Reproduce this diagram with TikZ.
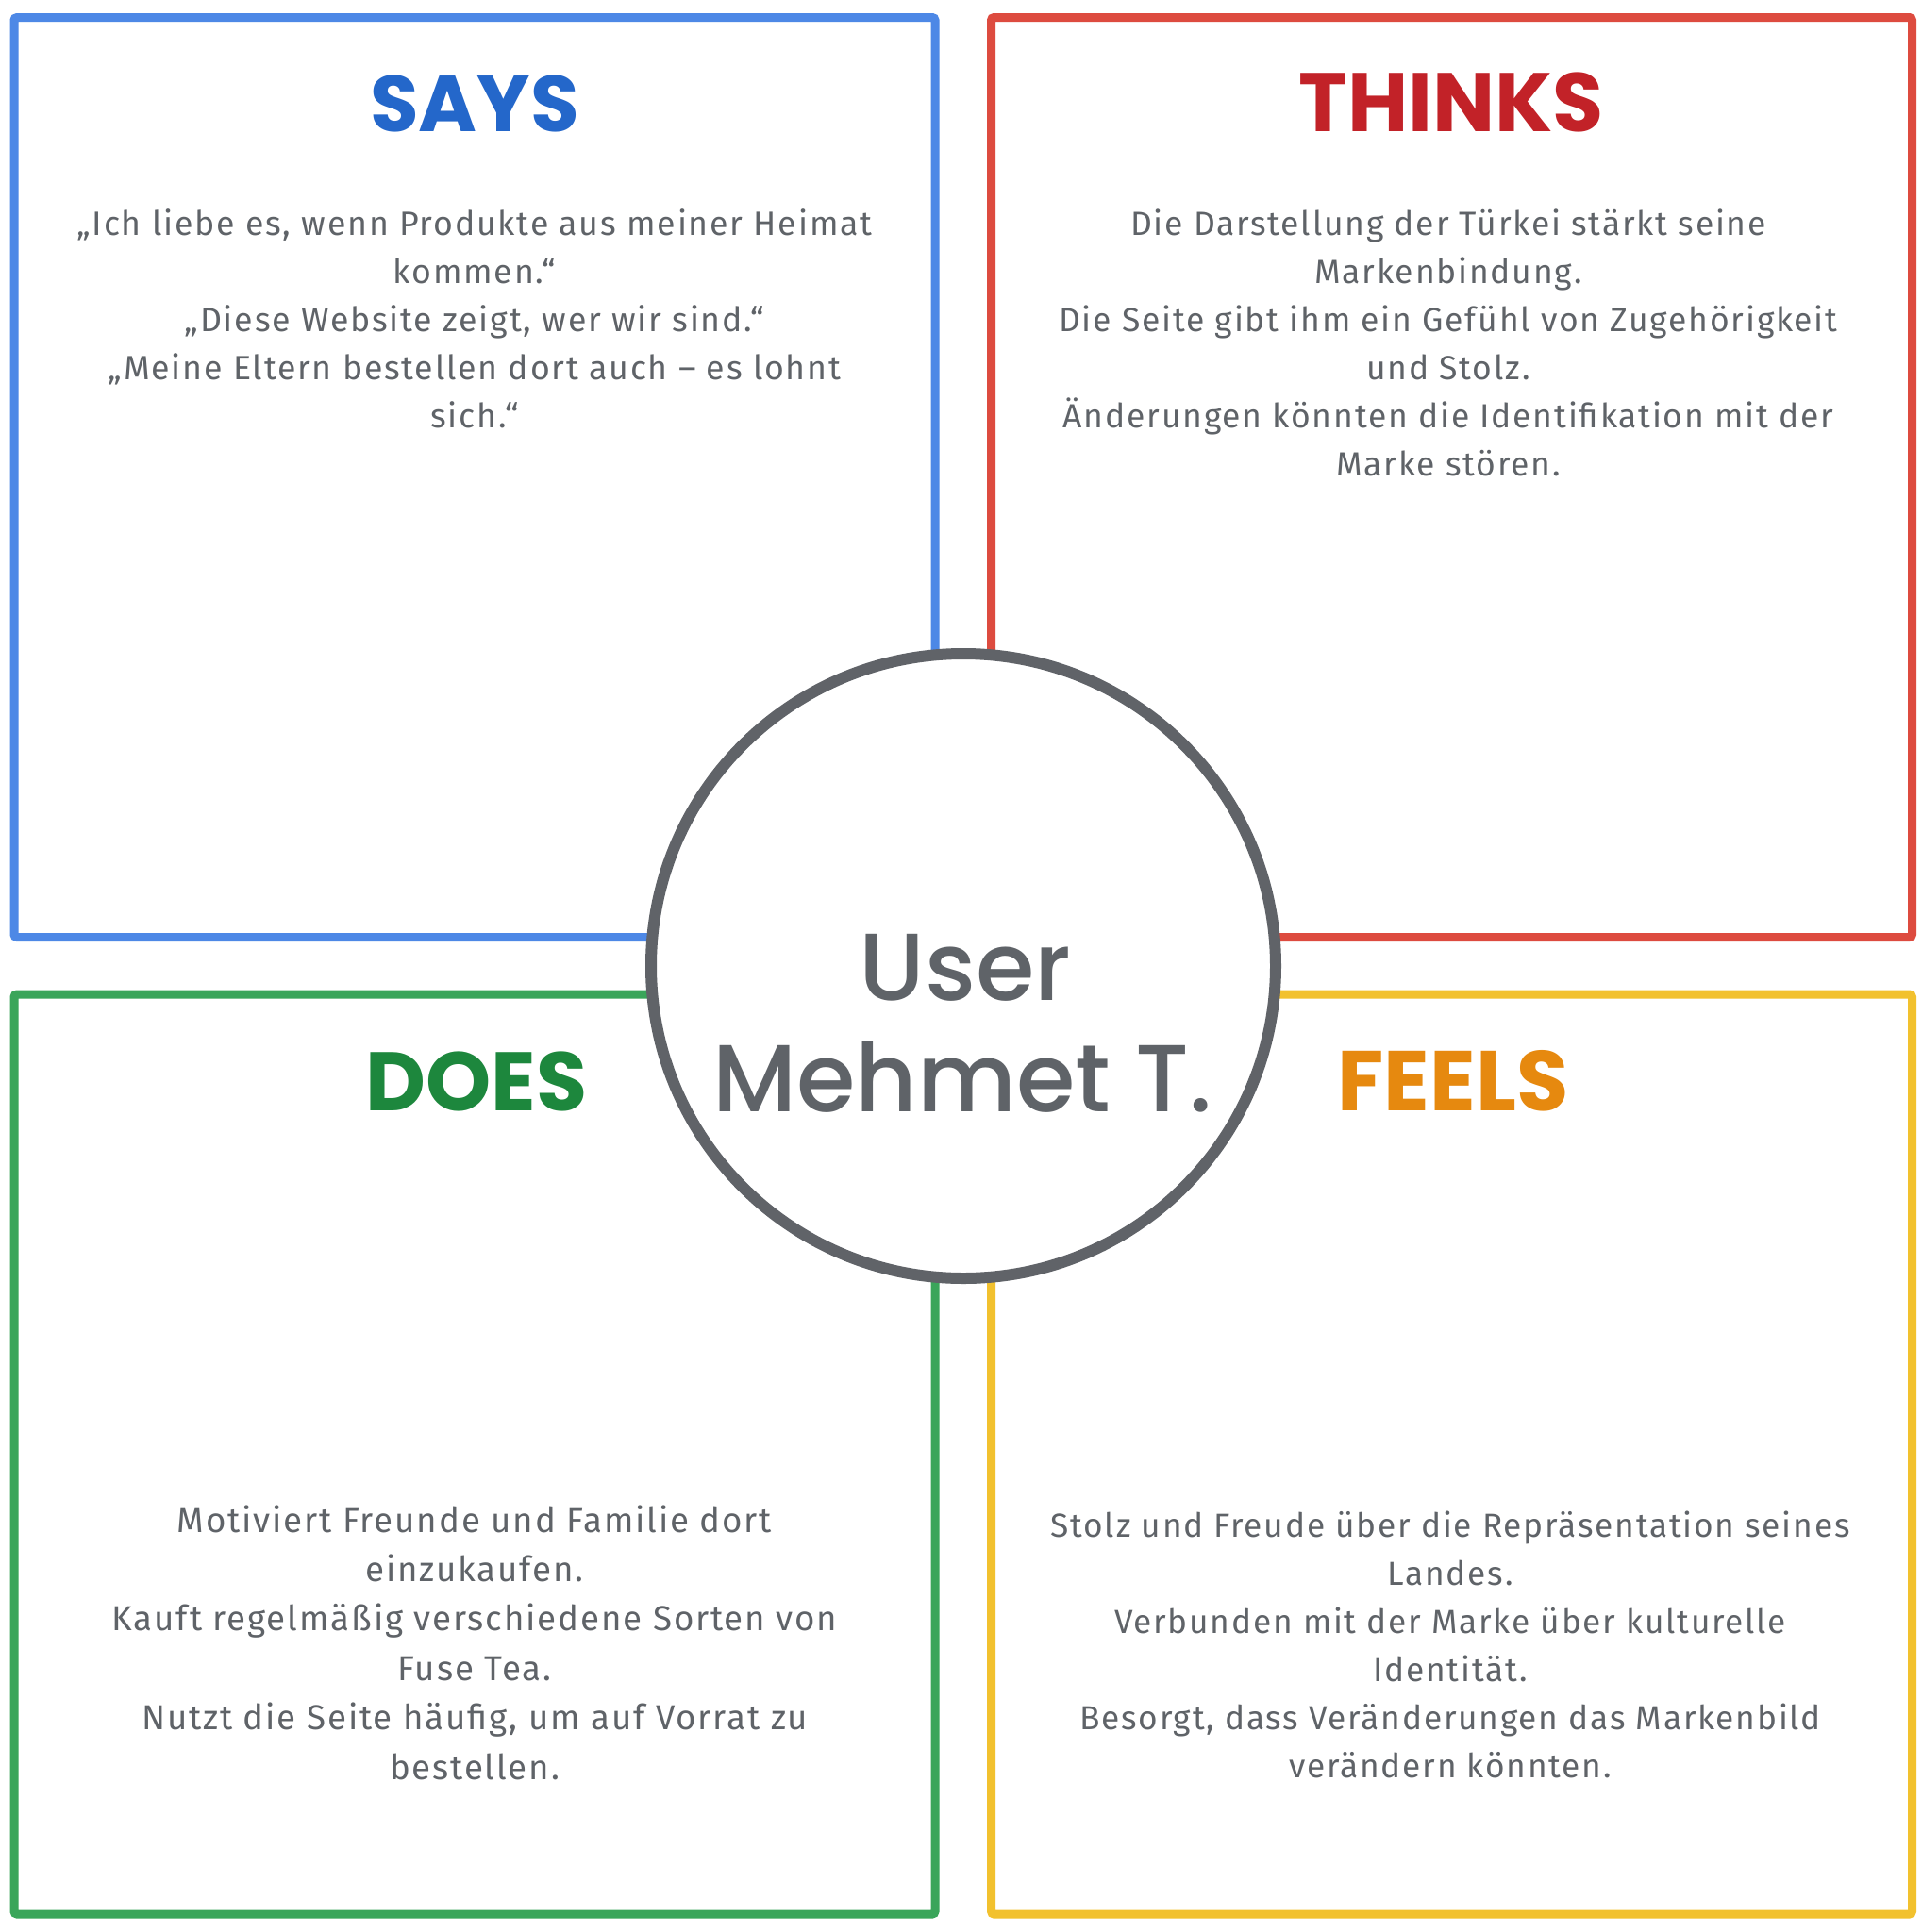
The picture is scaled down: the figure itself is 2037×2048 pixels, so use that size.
\documentclass[tikz,border=0pt]{standalone}
\usepackage{fontspec}
\newfontfamily\bodyfont{Fira Sans}[LetterSpace=5]
\newfontfamily\headfont{Poppins}
\newfontfamily\userfont{Poppins Medium}

\definecolor{saysline}{HTML}{4D88E6}
\definecolor{saystext}{HTML}{2467CA}
\definecolor{thinksline}{HTML}{DD4B3F}
\definecolor{thinkstext}{HTML}{C22228}
\definecolor{doesline}{HTML}{3AA55A}
\definecolor{doestext}{HTML}{1D873D}
\definecolor{feelsline}{HTML}{F2C12E}
\definecolor{feelstext}{HTML}{E6890F}
\definecolor{inkgray}{HTML}{5F6368}
\definecolor{ringgray}{HTML}{606368}

\tikzset{
  quad/.style={draw=#1, line width=9pt, rounded corners=3pt, inner sep=0pt,
    minimum width=976pt, minimum height=975pt},
  heading/.style={anchor=base, inner sep=0pt, text=#1,
    font=\headfont\bfseries\fontsize{88}{88}\selectfont},
  bodytext/.style={anchor=base, inner sep=0pt, text=inkgray},
  ring/.style={circle, draw=ringgray, line width=12pt, fill=white,
    minimum size=662pt, inner sep=0pt}
}

\newcommand{\blocktext}[2]{\parbox[t]{980pt}{\centering\bodyfont\fontsize{#1}{#1}\selectfont #2}}

\begin{document}
\begin{tikzpicture}[x=1pt, y=-1pt]
  \useasboundingbox (0,0) rectangle (2037,2048);
  \fill[white] (0,0) rectangle (2037,2048);

  % four quadrants
  \node[quad=saysline]   (says)   at (503,506)     {};
  \node[quad=thinksline] (thinks) at (1538.5,506)  {};
  \node[quad=doesline]   (does)   at (503,1541.5)  {};
  \node[quad=feelsline]  (feels)  at (1538.5,1541.5) {};

  % headings
  \node[heading=saystext, font=\headfont\bfseries\fontsize{84}{84}\selectfont]
    (saysh) at (503,139) {SAYS};
  \node[heading=thinkstext] (thinksh) at (1538,139)   {THINKS};
  \node[heading=doestext]   (doesh)   at (505,1177)   {DOES};
  \node[heading=feelstext, font=\headfont\bfseries\fontsize{90}{90}\selectfont]
    (feelsh) at (1540,1177) {FEELS};

  % quadrant contents
  \node[bodytext] (sayst) at (503,249) {\blocktext{35.7}{%
    \baselineskip=51pt
    „Ich liebe es, wenn Produkte aus meiner Heimat\\
    kommen.“\\
    „Diese Website zeigt, wer wir sind.“\\
    „Meine Eltern bestellen dort auch – es lohnt\\
    sich.“}};
  \node[bodytext] (thinkst) at (1535,249) {\blocktext{35.5}{%
    \baselineskip=51pt
    Die Darstellung der Türkei stärkt seine\\
    Markenbindung.\\
    Die Seite gibt ihm ein Gefühl von Zugehörigkeit\\
    und Stolz.\\
    Änderungen könnten die Identifikation mit der\\
    Marke stören.}};
  \node[bodytext] (doest) at (503,1624) {\blocktext{36.7}{%
    \baselineskip=52.4pt
    Motiviert Freunde und Familie dort\\
    einzukaufen.\\
    Kauft regelmäßig verschiedene Sorten von\\
    Fuse Tea.\\
    Nutzt die Seite häufig, um auf Vorrat zu\\
    bestellen.}};
  \node[bodytext] (feelst) at (1537,1629) {\blocktext{35.3}{%
    \baselineskip=51pt
    Stolz und Freude über die Repräsentation seines\\
    Landes.\\
    Verbunden mit der Marke über kulturelle\\
    Identität.\\
    Besorgt, dass Veränderungen das Markenbild\\
    verändern könnten.}};

  % central persona
  \node[ring] (user) at (1021,1024) {};
  \node[anchor=base, inner sep=0pt, text=inkgray,
        font=\userfont\fontsize{101}{101}\selectfont] (username) at (1023,1060) {User};
  \node[anchor=base, inner sep=0pt, text=inkgray,
        font=\userfont\fontsize{101}{101}\selectfont] (usersur) at (1020,1178) {Mehmet T.};
\end{tikzpicture}
\end{document}
